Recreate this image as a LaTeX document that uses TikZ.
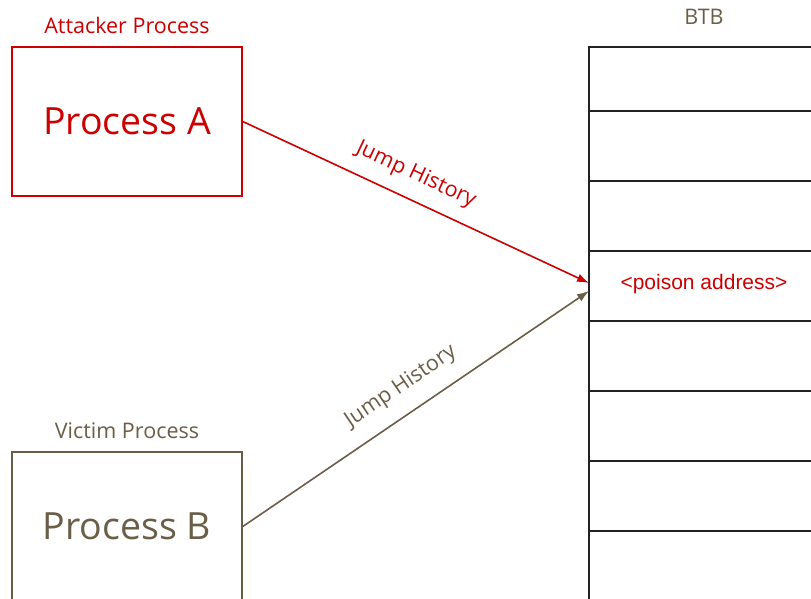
\documentclass[tikz,border=0pt]{standalone}
\usepackage{fontspec}
\setmainfont{Open Sans}
\newfontfamily\arialfont{Liberation Sans}
\usetikzlibrary{positioning,arrows.meta}

\definecolor{attackred}{HTML}{CC0000}
\definecolor{victimbrown}{HTML}{6B5E47}
\definecolor{tableline}{HTML}{222222}

\tikzset{
  procbox/.style={draw, line width=1.6pt, minimum width=230pt, minimum height=149pt,
    font=\fontsize{37.5}{40}\selectfont},
  caption/.style={font=\fontsize{21.5}{24}\selectfont},
  btbcell/.style={draw=tableline, line width=1.6pt, minimum width=230pt,
    anchor=north west, inner sep=0pt, outer sep=0pt},
  history/.style={-{Latex[length=12pt,width=8.5pt]}, line width=1.6pt},
}

\begin{document}
\begin{tikzpicture}[x=1pt,y=-1pt]

        \useasboundingbox (0,0) rectangle (811,599);
        \clip (0,0) rectangle (811,599);

        % Attacker side
        \node[procbox, draw=attackred, text=attackred] (procA) at (127,121.5) {Process A};
        \node[caption, text=attackred, above=9pt of procA] (attacker) {Attacker Process};

        % Victim side
        \node[procbox, draw=victimbrown, text=victimbrown] (procB) at (127,526.5) {Process B};
        \node[caption, text=victimbrown, above=9pt of procB] (victim) {Victim Process};

        % BTB entries
        \node[btbcell, minimum height=64pt] (btb1) at (589,47) {};
        \foreach \i [count=\j from 1] in {2,...,8}
            \node[btbcell, minimum height=70pt] (btb\i) at (btb\j.south west) {};
        \node[caption, text=victimbrown, above=19pt of btb1] (btbtitle) {BTB};
        \node[text=attackred, font=\arialfont\fontsize{21}{24}\selectfont] (poison)
            at ([yshift=2pt]btb4.center) {<poison address>};

        % Arrows
        \coordinate (hitA) at ([yshift=3pt]btb4.west);
        \coordinate (hitB) at ([yshift=-5pt]btb4.west);
        \draw[history, attackred] (procA.east) -- node[caption, text=attackred, sloped, above=10pt, pos=0.47] (jumpA) {Jump History} (hitA);
        \draw[history, victimbrown] (procB.east) -- node[caption, text=victimbrown, sloped, above=12pt, pos=0.5] (jumpB) {Jump History} (hitB);

\end{tikzpicture}
\end{document}
